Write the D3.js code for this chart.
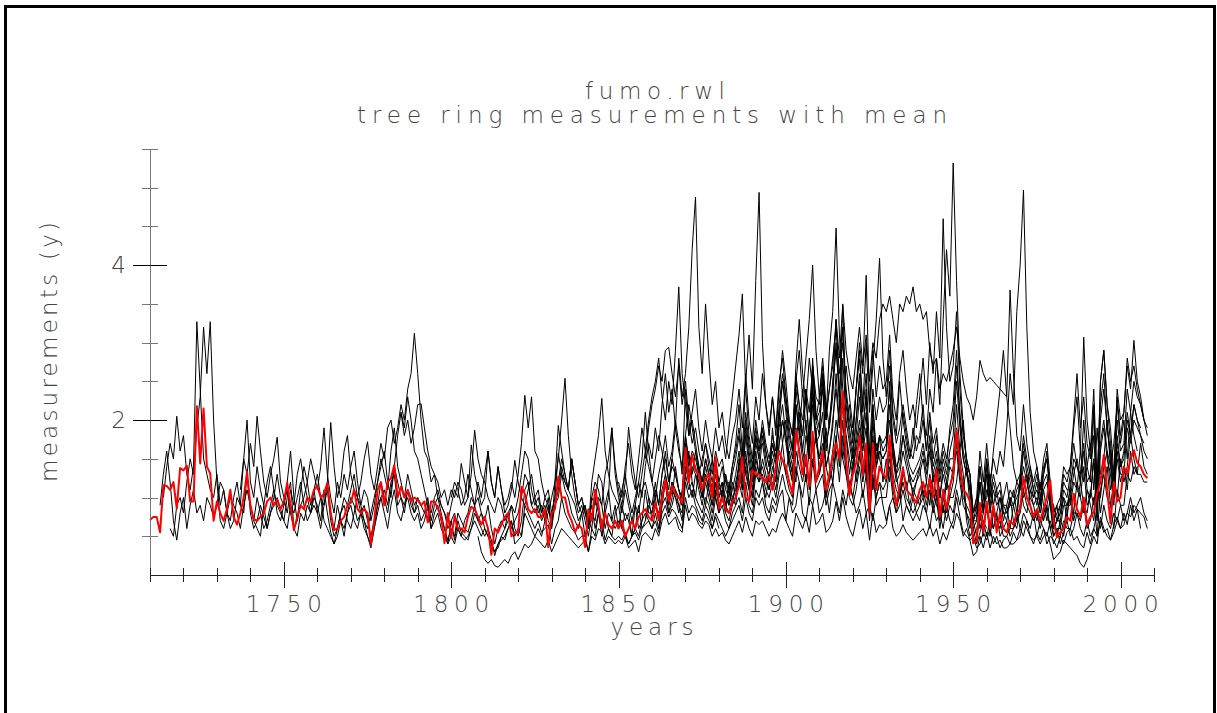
<!DOCTYPE html>
<html>
<head>
<meta charset="utf-8">
<script src="https://cdn.jsdelivr.net/npm/d3@7"></script>
<style>
    html, body { margin: 0; padding: 0; background: #fff; overflow: hidden; }
    text { font-family: 'DejaVu Sans', 'Liberation Sans', sans-serif; font-weight: 200; fill: #444; }
</style>
</head>
<body>
<svg id="chart" width="1217" height="713"></svg>
<script>

// tree ring widths, one value per year from the start year
var serA = [0.9,1.3,1.6,1.2,0.7,0.45,0.8,
    1.0,0.6,0.9,1.1,0.8,0.9,0.7,1.0,0.9,0.75, 0.9,1.2,1.1,0.8,0.6,0.7,1.0,0.9,0.8,1.3,
    0.8,0.6,0.7,0.9,0.75,0.6,0.8,0.9,1.0,0.85, 0.7,1.0,1.2,0.6,0.5,0.8,0.7,0.9,0.8,1.0,
    0.9,0.7,1.1,0.8,0.55,0.4,0.5,0.7,0.6,0.8, 1.0,0.9,0.7,0.8,0.6,0.5,0.35,0.6,0.8,1.0,
    1.1,0.9,1.2,1.3,0.9,1.0,0.8,1.1,0.9,0.8, 0.9,0.7,0.8,0.85,0.6,0.8,0.9,0.7,0.6,0.4,
    0.7,0.45,0.7,0.55,0.5,0.45,0.6,0.8,0.7,0.6, 0.5,0.6,0.45,0.25,0.4,0.45,0.5,0.6,0.7,0.4,
    0.45,0.5,0.9,0.8,0.7,0.6,0.7,0.55,0.6,0.65, 0.4,0.6,0.7,1.0,0.8,0.7,0.6,0.55,0.45,0.5,
    0.5,0.3,0.6,0.5,0.8,0.7,0.45,0.6,0.5,0.45, 0.5,0.45,0.55,0.4,0.5,0.55,0.45,0.6,0.65,0.7,
    0.6,0.7,0.55,0.8,0.9,0.75,0.85,0.8,0.7,0.6, 1.0,0.8,0.9,0.85,0.7,0.65,0.8,0.7,0.6,0.75, 0.6];

var serB = [1.0,1.4,1.7,1.5,2.05,1.6,
    1.8,1.3,1.1,1.4,3.27,2.4,1.5,1.3,1.1,1.0, 1.3,0.9,1.1,0.8,0.7,1.0,1.2,0.9,1.5,2.0,
    1.2,1.0,1.4,1.1,0.9,0.6,0.8,1.0,1.3,1.0, 0.9,1.2,1.6,1.0,0.7,1.1,1.4,1.2,1.5,1.3,
    1.1,1.4,1.9,1.3,1.0,0.8,1.2,1.0,1.3,1.1, 1.4,1.6,1.2,0.9,1.1,1.0,0.7,0.9,1.2,1.5,
    1.3,1.1,1.6,1.9,1.4,1.2,1.0,1.3,1.1,0.9, 1.0];

var serC = [0.6,0.5,0.9,1.0,
    0.8,1.2,1.5,1.3,1.9,2.3,3.2,2.6,3.27,2.0, 1.2,0.7,0.6,0.8,1.0,0.9,0.8,0.6,0.9,1.1,
    0.9,0.7,0.6,0.5,0.9,1.2,1.4,1.1,0.9,0.8, 0.7,0.6,0.9,0.8,1.0,1.2,0.9,0.7,0.8,0.9,
    0.8,1.0,0.7,0.6,0.5,0.4,0.6,0.8,0.9,0.7, 0.6,0.8,1.0,0.9,0.7,0.6,0.8,1.0,1.2,1.4,
    1.6,1.2,1.0,1.4,1.8,2.1,1.9,2.3,2.0,1.6, 1.5,1.3,1.1,0.9,0.8,1.0,1.1,0.9,0.8,0.6,
    0.7,0.8,0.6,0.5,0.7,0.8,1.0,0.9,0.7,0.8, 0.6,0.5,0.4,0.3,0.35,0.5,0.6,0.7,0.9,0.8,
    1.0,1.3,1.6,1.5,1.1,0.9,1.0,0.8,0.9,0.7, 0.6];

var serD = [1.1,1.5,1.3,
    1.7,1.4,2.05,1.6,1.2,1.0,1.3,1.5,1.78,1.2, 1.0,0.8,1.1,0.9,1.3,1.5,1.2,1.0,0.8,1.1,
    1.3,1.0,0.9,1.2,1.97,1.4,1.0,1.2,1.6,1.8, 1.3,1.1,1.0,1.2,1.5,1.72,1.3,1.1,1.4,1.7,
    1.5,1.9,2.0,1.7,1.9,2.2,2.0,2.4,2.6,3.12, 2.6,2.0,1.6,1.5,1.2,1.3,1.0,0.9,0.8,0.7,
    0.9,1.1,1.0,1.44,1.2,1.0,1.68,1.3,1.1,0.9, 1.0,1.6,1.2,1.0,1.4,1.1,0.8,0.9,1.1,1.48,
    1.2,1.0,0.9,1.1,1.3,1.0,0.8,0.9,0.7,0.8, 1.0,1.2,1.93,1.6,1.3,1.1,1.5,1.2,0.9,1.0,
    0.8,0.7,1.0,1.2,1.1,0.9,1.3,1.5,1.9,1.4, 1.1,0.9,1.2,1.91,1.5,1.2,1.0,1.3,1.6,1.4,
    1.2,1.5,1.8,1.6,1.3,1.1,1.5,1.9,1.6,1.4, 1.8,2.2,1.9,1.6,1.3,1.5,1.7,1.4,1.2,1.5,
    1.2,1.0,1.3,1.1,0.9,1.2,1.4,1.6,1.3,1.1, 1.4,1.7,1.5,1.2,1.0,1.3,1.6,1.4,1.9,2.2,
    1.8,1.5,1.3,1.7,2.1,1.6,1.4,1.9,2.3,1.8, 1.5,1.7,1.4,1.2,1.6,2.0,1.7,1.5,1.3,1.1,
    1.4,1.6,1.9,1.5,1.3,1.1,1.4,1.7,1.5,1.3, 1.2,1.5,1.3,1.1,1.0,1.3,1.2,0.9,1.1,1.0,
    0.9,1.2,1.0,1.3,1.1,0.9,0.8,1.0,1.2,1.1, 1.4,1.6,1.2,0.9,0.8,0.7,0.5,0.6,0.8,0.7, 0.6];

var serE = [0.9,0.7,1.0,0.8,0.6,0.7,0.9,1.1,0.8,0.7, 0.9,1.1,0.8,0.6,0.7,0.9,1.0,1.2,0.9,1.1,
    0.8,0.6,0.9,1.1,0.7,0.5,0.6,0.8,1.0,0.9, 1.1,1.3,1.0,0.8,0.9,0.7,0.5,0.7,0.9,1.2,
    1.0,0.8,1.1,1.4,1.2,1.0,0.9,1.1,1.0,0.8, 1.0,0.9,0.8,1.0,0.7,0.9,1.0,0.8,0.6,0.45,
    0.6,0.5,0.8,0.7,0.6,0.55,0.7,0.9,1.0,0.8, 0.7,0.9,0.6,0.4,0.6,0.7,0.6,0.8,0.9,0.6,
    0.5,0.7,1.1,1.2,0.9,0.8,0.9,0.7,0.8,1.0, 0.6,0.9,1.0,1.3,1.1,1.0,0.8,0.7,0.6,0.8,
    0.9,0.7,0.6,1.0,0.8,0.6,0.9,1.1,0.7,0.9, 0.6,0.9,0.7,0.8,0.5,0.9,0.6,0.7,1.1,0.8,
    0.8,1.0,0.7,1.1,1.3,1.0,1.2,1.1,1.0,0.9, 1.5,1.2,1.4,1.3,1.2,1.0,1.3,1.1,0.9,1.2,
    0.9,1.0,0.8,0.7,0.9,1.0,1.2,1.0,1.4,1.1, 0.9,1.3,1.2,1.3,1.1,1.0,1.2,1.0,1.3,1.5,
    1.3,1.1,1.0,1.6,1.4,1.2,1.5,1.1,1.7,1.2, 1.3,1.5,1.0,1.2,1.4,1.8,1.4,2.0,1.4,1.2,
    1.0,1.3,1.6,1.2,1.5,0.8,1.5,1.0,1.2,1.1, 1.2,1.6,1.1,0.9,1.0,1.2,1.0,0.9,0.8,0.9,
    1.0,1.1,0.9,1.2,0.9,1.1,0.7,1.0,0.8,1.0, 1.2,1.7,1.3,1.0,0.9,0.8,0.4,0.45,0.8,0.5,
    0.9,0.5,0.8,0.6,0.7,0.5,0.5,0.6,0.6,0.7, 0.8,1.1,0.9,0.8,0.7,0.8,0.6,0.8,0.9,0.6,
    0.4,0.5,0.5,0.7,0.6,0.6,0.8,0.8,0.7,0.9, 0.6,0.7,1.0,0.5,1.1,1.3,1.0,0.9,0.6,1.1,
    0.9,0.9,1.3,1.2,1.4,1.3,1.3,1.2,1.2];

var serF = [0.6,0.9,0.7,0.5,0.8,
    0.9,0.7,0.6,0.8,0.7,0.5,0.4,0.6,0.9,1.0, 0.8,0.6,0.9,1.1,0.8,0.7,0.9,1.0,0.8,0.7,
    0.8,0.6,0.7,0.9,0.6,0.7,0.8,0.6,0.5,0.4, 0.5,0.4,0.6,0.5,0.45,0.5,0.6,0.7,0.6,0.5,
    0.6,0.5,0.4,0.3,0.4,0.5,0.45,0.6,0.7,0.5, 0.6,0.5,0.8,0.7,0.6,0.5,0.6,0.5,0.7,0.9,
    0.6,1.2,1.5,2.0,2.54,1.8,1.3,1.0,0.8,0.9, 0.7,0.5,0.8,0.7,1.0,0.9,0.6,0.8,0.7,0.6,
    0.7,0.6,0.5,0.4,0.5,0.6,0.5,0.7,0.8,0.7, 0.6,0.8,0.6,0.9,1.0,0.8,0.9,1.1,0.9,0.7,
    1.2,1.0,1.1,0.9,0.8,0.7,0.9,0.8,0.6,0.8, 0.7,0.6,0.5,0.6,0.7,0.8,0.9,0.7,1.0,0.8,
    0.7,1.0,0.9,1.0,0.8,0.7,0.9,0.8,1.0,1.1, 0.7,1.0,0.8,0.9,1.2,0.8,0.7,1.0,0.9,1.1,
    0.8,0.9,1.1,0.8,1.2,1.0,0.8,1.1,0.9,1.2, 1.0,0.8,0.9,1.1,0.8,0.9,0.7,1.0,1.2,0.9,
    0.7,0.9,1.0,0.8,1.1,0.7,0.9,0.8,1.0,0.8, 0.7,0.9,0.8,0.6,0.9,0.7,0.8,0.6,0.9,0.7,
    0.6,0.8,0.7,0.5,0.6,0.45,0.5,0.35,0.4,0.55, 0.45,0.6,0.4,0.5,0.35,0.45,0.5,0.4,0.55,0.45,
    0.6,0.5,0.7,0.5,0.4,0.55,0.45,0.6,0.4,0.5, 0.45,0.35,0.5,0.4,0.55,0.6,0.45,0.5,0.4,0.35,
    0.55,0.4,0.6,0.5,0.7,0.55,0.6,0.45,0.65,0.75, 0.6,0.8,0.65,0.9,0.7,0.85,0.6];

var serG = [2.1,1.8,2.0,1.7,1.9,
    2.2,2.21,1.9,1.6,1.4,1.3,1.2,1.0,1.1,0.9, 1.1,1.0,1.2,1.1,0.9,1.0,1.3,1.87,1.5,1.3,
    1.2,1.0,0.9,0.8,1.0,0.9,0.7,0.8,0.6,0.7, 0.8,1.0,1.3,1.2,0.9,1.0,1.1,0.8,1.0,0.9,
    0.7,0.9,1.1,1.4,1.2,1.1,1.5,1.2,0.9,1.0, 0.8,0.6,1.2,1.5,1.8,2.28,1.6,1.3,1.1,1.0,
    0.9,1.1,1.3,1.0,0.8,1.0,1.2,1.5,2.1,1.6, 1.2,1.0,1.3,1.5,1.8,1.4,1.6,2.0,1.7,1.3,
    2.4,1.8,2.0,1.7,1.4,1.2,1.5,1.3,1.1,1.4, 1.1,1.2,1.0,0.9,1.1,1.3,1.6,1.2,1.9,1.5,
    1.2,1.8,1.6,1.7,1.4,1.3,1.5,1.2,1.7,2.0, 1.7,1.4,1.2,2.2,1.9,1.6,2.0,1.5,2.4,1.7,
    1.8,2.1,1.4,1.6,1.9,2.6,1.9,2.8,2.0,1.7, 1.4,1.8,2.3,1.7,2.1,1.1,2.0,1.4,1.6,1.5,
    1.6,2.2,1.5,1.2,1.3,1.6,1.4,1.2,1.1,1.2, 1.3,1.5,1.2,1.6,1.2,1.4,1.0,1.3,1.1,1.4,
    1.3,1.9,1.5,1.1,1.4,0.9,0.7,0.5,0.8,1.0, 0.8,1.1,0.9,0.7,0.6,0.9,0.8,1.0,0.7,0.6,
    0.9,1.1,1.3,0.9,0.7,0.8,1.0,0.7,0.9,1.1, 0.8,0.5,0.7,0.6,0.9,1.1,0.8,1.2,1.0,0.8,
    1.1,0.9,0.7,1.2,1.0,1.4,1.6,1.1,1.3,1.0, 1.5,1.2,1.4,1.8,1.5,1.3,1.7,1.4,1.3];

var serH = [1.0,1.2,1.1,0.9,1.0,1.3,1.1,0.9,1.2,1.0, 1.3,1.6,1.2,1.0,1.4,1.1,0.9,1.0,1.2,1.0,
    1.3,1.7,2.32,1.9,2.3,1.6,1.5,1.2,1.0,1.1, 0.8,1.0,1.57,1.3,1.2,1.1,1.5,1.2,0.9,0.8,
    0.9,0.6,1.0,0.9,1.3,1.2,0.8,1.0,1.9,1.3, 1.0,0.8,1.1,0.9,0.7,0.9,0.8,1.1,1.2,1.0,
    0.9,1.2,0.9,1.3,1.5,1.2,1.4,1.3,1.1,1.0, 1.8,1.4,1.6,1.5,1.3,1.1,1.4,1.2,1.0,1.3,
    1.0,1.1,0.9,0.8,1.0,1.1,1.4,1.1,1.6,1.2, 1.0,1.5,1.3,1.4,1.2,1.1,1.3,1.1,1.4,1.7,
    1.3,1.6,1.4,1.2,1.8,1.5,1.2,1.6,1.4,1.9, 1.3,1.6,1.9,1.4,1.2,1.7,2.2,1.5,1.8,1.3,
    1.6,1.2,1.5,1.9,1.3,1.6,1.1,1.4,1.8,1.2, 1.5,1.2,1.7,1.3,1.0,1.4,1.1,1.3,1.0,1.2,
    1.4,1.0,1.2,0.9,1.3,1.0,1.1,0.8,1.2,1.0, 1.0,1.2,1.6,1.3,0.8,0.6,0.7,0.9,0.6,0.8,
    1.1,0.9,0.6,0.8,1.0,0.7,0.9,0.6,0.9,0.7, 1.2,0.9,0.8,1.1,0.9,0.7,0.9,1.1,0.8,0.6,
    0.7,0.9,0.6,0.5,0.8,1.0,0.7,0.9,1.2,0.9, 0.8,1.1,0.9,1.3,0.8,1.1,1.4,0.9,1.2,1.5,
    1.2,1.4,1.1,1.6,1.3,1.4];

var serI = [0.5,0.3,
    0.2,0.15,0.2,0.12,0.1,0.15,0.2,0.15,0.25,0.3, 0.2,0.3,0.4,0.35,0.4,0.5,0.45,0.4,0.35,0.45,
    0.3,0.4,0.5,0.6,0.55,0.5,0.45,0.4,0.35,0.4, 0.45,0.3,0.5,0.45,0.6,0.55,0.4,0.5,0.45,0.4,
    0.45,0.4,0.5,0.35,0.4,0.45,0.3,0.5,0.55,0.5, 0.45,0.6,0.5,0.7,0.8,0.65,0.7,0.75,0.6,0.55,
    0.9,0.7,0.8,0.75,0.65,0.6,0.7,0.65,0.5,0.6, 0.5,0.55,0.45,0.4,0.5,0.6,0.7,0.55,0.75,0.6,
    0.5,0.7,0.65,0.7,0.6,0.5,0.6,0.55,0.7,0.8, 0.7,0.6,0.5,0.8,0.7,0.6,0.75,0.55,0.9,0.65,
    0.7,0.8,0.55,0.6,0.7,0.95,0.7,1.0,0.75,0.6, 0.5,0.7,0.85,0.6,0.8,0.45,0.8,0.55,0.65,0.6,
    0.65,0.9,0.6,0.5,0.55,0.65,0.55,0.5,0.45,0.5, 0.55,0.6,0.5,0.65,0.5,0.6,0.4,0.55,0.45,0.6,
    0.7,1.0,0.75,0.55,0.5,0.45,0.25,0.3,0.5,0.35, 0.55,0.35,0.5,0.4,0.45,0.35,0.35,0.4,0.4,0.45,
    0.5,0.7,0.6,0.5,0.45,0.5,0.4,0.5,0.55,0.4, 0.2,0.25,0.3,0.45,0.4,0.35,0.3,0.25,0.15,0.1,
    0.2,0.35,0.5,0.4,0.75,0.6,0.5,0.45,0.55,0.7, 0.6,0.65,0.8,0.75,0.9,0.85,0.8,0.75,0.6];

var serJ = [0.8,1.0,1.2,1.5,1.3,1.1,1.0,0.9,0.7,0.8, 0.5,0.7,0.9,0.6,0.8,0.5,0.8,0.6,0.5,0.8,
    0.9,0.6,0.8,0.7,0.5,0.6,0.9,0.6,0.7,1.0, 0.7,0.9,0.8,1.0,1.2,0.9,1.1,1.0,0.9,0.8,
    1.3,1.1,1.2,1.0,0.9,0.8,1.0,0.9,0.7,1.0, 0.8,0.9,0.7,0.6,0.8,0.9,1.0,0.8,1.2,0.9,
    0.8,1.1,1.0,1.2,0.9,0.8,1.0,0.9,1.1,1.3, 1.1,1.0,0.9,1.4,1.2,1.0,1.3,0.9,1.5,1.1,
    1.2,1.3,0.9,1.1,1.2,1.6,1.2,1.8,1.3,1.0, 0.9,1.1,1.4,1.0,1.3,0.7,1.3,0.9,1.0,1.0,
    1.0,1.4,1.0,0.8,0.9,1.1,0.9,0.8,0.7,0.8, 0.9,1.0,0.8,1.1,0.8,1.0,0.6,0.9,0.7,0.9,
    0.8,1.1,0.9,1.2,0.7,0.5,0.6,0.4,0.55,0.7, 0.5,0.7,0.6,0.8,0.5,0.6,0.7,0.5,0.6,0.8,
    0.6,0.8,0.7,0.6,0.8,0.5,0.7,0.6,0.5,0.7, 0.5,0.6,0.4,0.55,0.7,0.5,0.6,0.8,0.6,0.5,
    0.7,0.5,0.6,0.8,0.6,0.9,0.7,0.6,0.8,0.7, 0.9,0.7,0.8,1.0,0.8,0.9,1.0,0.8,0.7];

var serK = [1.2,1.0,1.4,1.7,1.3,1.1,1.5,1.9,1.6,2.0, 2.3,2.5,2.8,2.3,2.0,2.5,2.2,2.9,3.72,2.6,
    2.2,1.8,2.1,2.4,1.9,1.6,2.0,1.7,1.5,1.9, 1.6,1.8,1.5,1.9,2.3,2.7,3.1,3.63,2.4,1.8,
    1.5,2.0,1.7,1.9,1.6,1.4,1.7,1.5,2.0,2.5, 2.1,1.7,1.5,2.4,2.0,1.8,2.3,1.7,2.6,2.0,
    2.1,2.4,1.7,1.9,2.3,3.0,2.2,3.2,2.3,1.9, 1.6,2.0,2.5,1.9,2.3,1.3,2.2,1.6,1.8,1.7,
    1.8,2.4,1.7,1.4,1.5,1.8,1.6,1.4,1.3,1.4, 1.5,1.7,1.4,1.8,1.4,1.6,1.2,1.5,1.3,1.6,
    1.8,2.5,1.9,1.5,1.3,1.2,0.7,0.7,1.2,0.8, 1.3,0.8,1.1,0.9,1.0,0.8,0.8,0.9,0.9,1.0,
    1.1,1.6,1.3,1.1,1.0,1.1,0.9,1.2,1.3,0.9, 0.6,0.7,0.7,1.0,0.9,0.9,1.2,1.1,1.0,1.4,
    0.9,1.0,1.5,0.7,1.6,1.9,1.5,1.3,0.9,1.6, 1.3,1.3,1.9,1.7,2.0,1.9,1.8,1.7];

var serL = [0.9,1.2,1.0,1.4,1.7,
    1.5,1.9,1.6,2.2,2.6,2.1,2.4,1.9,2.8,2.3, 2.6,3.2,4.2,4.88,3.2,2.6,3.5,2.8,2.2,2.5,
    1.9,2.1,1.7,1.5,1.8,2.0,2.4,1.9,2.6,2.0, 1.7,2.3,2.0,2.6,2.2,1.9,2.3,1.8,2.4,2.9,
    2.5,2.0,1.8,2.7,3.3,2.6,2.2,2.8,2.4,2.0, 2.3,2.8,2.2,1.9,2.5,2.9,2.4,2.1,2.7,2.3,
    1.9,2.4,2.8,2.1,2.6,1.6,2.4,2.0,2.3,2.1, 2.2,2.7,2.0,1.7,1.9,2.2,1.9,1.6,1.5,1.8,
    1.7,2.0,1.6,2.1,1.7,1.9,1.4,1.7,1.5,1.8, 2.0,2.7,2.1,1.6,1.4,1.3,0.8,0.9,1.4,1.0,
    1.5,1.0,1.3,1.1,1.2,0.9,0.9,1.1,1.0,1.2, 1.3,1.8,1.5,1.3,1.1,1.3,1.0,1.4,1.5,1.1,
    0.7,0.8,0.9,1.2,1.1,1.1,1.5,1.4,1.3,1.7, 1.2,1.3,1.8,0.9,2.0,2.4,1.9,1.6,1.1,2.0,
    1.6,1.7,2.4,2.1,2.5,2.3,2.2,2.0,1.9];

var serM = [0.7,0.9,
    0.8,1.1,0.9,1.3,1.6,1.2,1.5,1.3,1.1,1.0, 1.7,1.3,1.5,1.4,1.2,1.0,1.3,1.1,0.9,1.2,
    1.0,1.2,0.9,1.1,1.4,1.7,2.2,1.6,2.5,3.1, 2.4,3.8,4.94,3.0,2.2,1.8,2.3,1.9,2.5,2.8,
    2.3,1.9,1.6,2.6,2.2,1.8,2.4,1.7,2.8,2.1, 1.9,2.5,1.6,2.0,2.4,3.3,2.3,3.48,2.2,1.8,
    1.5,2.0,2.6,1.8,2.4,1.2,2.2,1.5,1.8,1.6, 1.7,2.5,1.6,1.3,1.4,1.8,1.5,1.3,1.2,1.3,
    1.4,1.6,1.3,1.7,1.3,1.5,1.0,1.4,1.2,1.5, 1.5,2.2,1.6,2.0,1.4,1.1,0.8,1.0,0.7,0.9,
    1.0,1.3,0.9,1.1,0.8,1.0,1.2,0.9,1.1,0.8, 1.3,1.0,1.1,1.4,1.1,0.9,1.2,0.9,0.7,1.0,
    0.9,0.7,0.8,1.0,0.7,1.2,1.4,1.1,1.6,1.2, 1.4,1.7,1.1,1.9,1.3,1.5,2.0,1.4,1.7,2.2,
    1.7,2.0,1.5,2.1,1.8,1.6];

var serN = [0.6,0.9,1.2,0.8,1.0,1.4,1.1,0.9,
    1.3,1.6,1.2,1.0,1.4,1.1,0.9,1.2,1.5,1.0, 0.8,1.1,1.3,0.9,1.2,1.0,1.5,1.2,1.8,1.4,
    1.1,1.6,1.3,1.8,1.5,1.2,1.9,1.4,2.1,1.7, 2.0,1.5,1.3,2.2,1.8,2.4,1.9,1.6,2.7,2.0,
    1.8,2.6,2.0,2.9,3.4,4.48,3.1,2.4,1.9,2.2, 1.7,2.4,2.9,2.2,3.0,2.1,2.7,3.3,4.09,2.8,
    2.3,2.9,2.1,1.8,2.5,2.0,1.7,1.5,1.9,1.6, 1.8,2.2,1.6,2.0,1.5,1.8,1.3,1.6,1.4,1.9,
    2.2,2.9,2.0,1.5,1.3,1.1,0.6,0.7,1.2,0.8, 1.4,0.9,1.2,1.0,1.1,0.8,0.7,1.0,0.9,1.1,
    1.2,1.7,1.4,1.2,1.0,1.2,0.9,1.3,1.6,1.0, 0.6,0.7,0.8,1.1,1.0,1.3,1.7,1.4,1.2,2.0,
    1.4,1.2,2.1,1.0,2.5,2.9,2.2,1.7,1.2,2.3, 1.8,2.1,2.7,2.4,3.03,2.5,2.3,2.0,1.8];

var serO = [0.9,1.2,1.0,0.8,1.1,
    1.4,1.2,1.0,1.3,1.1,0.9,1.2,1.0,0.8,1.1, 0.9,1.0,0.8,1.2,1.0,0.9,1.3,1.1,1.5,1.2,
    1.0,1.4,1.2,1.5,1.3,1.1,1.4,1.2,1.7,2.0, 1.8,1.4,1.2,1.9,1.6,1.3,1.8,1.5,2.2,1.7,
    1.5,1.9,1.4,1.6,2.0,2.4,1.9,2.2,1.8,1.5, 1.3,1.7,2.0,1.6,1.9,1.2,1.8,1.4,1.6,1.5,
    1.6,2.0,1.5,1.3,1.6,2.1,1.8,1.5,1.7,2.2, 2.6,2.0,1.8,2.4,2.1,2.8,2.2,3.3,4.2,3.6,
    5.32,3.8,2.6,1.9,1.5,1.3,0.8,1.0,1.6,1.2, 1.7,1.2,1.5,1.3,1.6,1.4,1.9,2.6,2.2,3.4,
    4.0,4.97,3.2,2.1,1.6,1.4,1.1,1.3,1.5,1.0, 0.6,0.7,0.9,1.3,1.2,1.4,1.9,2.3,1.6,3.07,
    2.0,1.6,2.4,1.2,2.2,2.6,1.9,1.5,1.0,1.8, 1.4,1.6,2.1,1.8,2.2,2.0,1.8,1.6,1.5];

var serP = [1.8,1.5,1.3,1.6,1.4,1.2,1.5,1.3,1.1,1.4, 1.2,1.4,1.1,1.0,1.3,1.5,1.8,1.4,2.0,1.6,
    1.3,1.8,1.5,1.9,1.6,1.4,1.7,1.5,2.1,2.5, 2.2,1.8,1.6,2.5,2.9,2.3,2.8,3.3,4.0,2.9,
    2.3,2.7,2.0,2.4,2.8,3.2,2.6,3.0,2.4,2.0, 1.8,2.4,3.0,2.6,3.87,2.2,2.9,2.3,2.7,2.4,
    2.5,3.1,2.3,2.0,2.6,2.9,2.4,2.0,2.2,1.9, 2.3,2.8,2.2,3.0,2.6,3.4,2.8,4.6,3.2,2.5,
    2.7,3.4,2.4,1.8,1.5,1.3,0.7,0.8,1.4,1.0, 1.5,1.1,1.6,2.0,2.4,2.9,2.3,3.68,2.6,1.8,
    1.6,2.2,1.7,1.4,1.2,1.4,1.1,1.5,1.7,1.2, 0.8,0.9,1.0,1.4,1.3,1.4,2.0,2.6,1.9,2.3,
    1.7,1.5,2.2,1.1,2.5,2.9,2.2,1.9,1.3,2.4, 2.0,2.1,2.8,2.5,2.7,2.4,2.2,2.0];

var serQ = [1.5,1.9,
    2.2,2.4,2.7,2.5,2.9,2.94,2.6,2.3,2.7,2.2, 2.5,2.0,1.7,1.9,1.6,1.4,1.7,1.5,1.3,1.6,
    1.4,1.5,1.2,1.1,1.4,1.6,1.9,1.5,2.1,1.7, 1.4,1.9,1.6,2.0,1.7,1.5,1.8,1.6,2.2,2.6,
    2.3,2.0,1.8,2.5,2.2,2.0,2.4,2.1,2.7,2.3, 2.2,2.6,2.1,2.4,2.7,3.3,2.8,3.5,2.9,2.6,
    2.4,2.8,3.2,2.7,3.1,2.5,3.0,2.8,3.3,3.5, 3.4,3.6,3.3,3.0,3.5,3.4,3.6,3.5,3.72,3.4,
    3.5,3.3,3.4,2.9,2.7,2.8,2.4,2.6,2.5,2.7, 2.9,3.2,2.8,2.5,2.3,2.2,2.0,2.3,2.77,2.6,
    2.5,2.55,2.5,2.45,2.4,2.35,2.3,1.9,1.4,1.2, 1.1,1.4,1.2,1.0,0.9,1.0,0.8,1.1,1.2,0.9,
    0.5,0.6,0.6,0.9,0.9,1.0,1.3,1.5,1.2,1.6, 1.1,1.0,1.5,0.8,1.7,2.0,1.6,1.4,1.0,1.7,
    1.4,1.5,2.0,1.8,2.2,2.0,1.9];

var seriesStarts = [1713, 1714, 1716, 1737, 1740, 1765, 1785, 1800, 1808, 1830, 1850, 1855, 1858, 1862, 1865, 1870, 1858];
var seriesValues = [serA, serB, serC, serD, serE, serF, serG, serH, serI, serJ, serK, serL, serM, serN, serO, serP, serQ];

// mean curve, 1710 onwards
var meanStart = 1710;
var meanValues = [0.71,0.75,0.75,0.55,1.16,1.15,1.1,1.2,0.86,1.38,
    1.35,1.41,0.95,0.95,2.18,1.44,2.15,1.4,1.31,0.7, 0.95,0.8,0.7,0.85,1.1,0.75,0.65,0.8,1.0,1.33,
    0.9,0.72,0.7,0.75,0.8,0.95,1.0,0.9,0.97,0.85, 0.95,1.19,0.9,0.58,0.75,0.9,0.85,1.0,0.95,1.1,
    1.15,1.0,1.05,1.19,0.8,0.58,0.6,0.7,0.75,0.9, 0.93,1.1,0.85,0.8,0.85,0.8,0.4,0.7,1.1,1.2,
    0.9,1.2,1.25,1.42,1.0,1.14,1.0,1.1,0.95,1.0, 0.97,0.9,0.95,0.68,0.95,0.95,0.86,0.75,0.41,0.8,
    0.48,0.75,0.6,0.6,0.55,0.75,0.88,0.85,0.75,0.65, 0.75,0.6,0.26,0.6,0.55,0.65,0.75,0.8,0.5,0.55,
    0.55,1.14,1.05,0.85,0.8,0.85,0.75,0.75,0.85,0.36, 0.8,0.85,1.27,1.0,1.0,0.8,0.7,0.55,0.65,0.6,
    0.36,0.85,0.7,1.1,0.9,0.6,0.8,0.65,0.6,0.7, 0.6,0.7,0.5,0.6,0.7,0.6,0.75,0.8,0.85,0.75,
    0.7,0.93,0.71,1.0,1.22,0.95,1.15,1.05,1.0,0.93, 1.64,1.2,1.55,1.35,1.3,1.1,1.25,1.3,1.0,1.52,
    0.86,1.0,0.85,0.8,0.95,1.0,1.15,1.52,1.0,0.95, 1.35,1.3,1.3,1.25,1.2,1.3,1.1,1.4,1.6,1.48,
    1.4,1.2,1.05,1.87,1.6,1.3,1.55,1.15,1.85,1.2, 1.4,1.6,1.1,1.3,1.55,1.7,1.5,2.36,1.5,1.03,
    1.3,1.45,1.8,1.3,1.7,0.8,1.7,1.1,1.4,1.3, 1.25,1.8,1.2,0.9,1.14,1.38,1.1,1.05,1.0,0.93,
    1.1,1.2,1.0,1.25,1.0,1.36,0.75,1.1,0.85,1.15, 1.3,1.87,1.4,1.1,1.05,0.95,0.41,0.45,0.93,0.55,
    0.95,0.6,0.9,0.55,0.8,0.6,0.55,0.7,0.65,0.8, 0.85,1.27,1.0,0.9,0.75,0.85,0.7,0.85,1.0,1.22,
    0.7,0.49,0.55,0.6,0.75,0.7,1.05,0.85,0.75,1.0, 0.65,0.75,0.81,1.05,1.2,1.55,1.1,0.67,1.2,0.95,
    1.0,1.4,1.3,1.5,1.61,1.45,1.4,1.3,1.25];

var xMinorTicks = d3.range(1710, 2011, 10);
var xMajorTicks = [1750, 1800, 1850, 1900, 1950, 2000];
var xTickLabels = ['1750', '1800', '1850', '1900', '1950', '2000'];
var yMinorTicks = [0.5, 1, 1.5, 2.5, 3, 3.5, 4.5, 5, 5.5];
var yMajorTicks = [2, 4];
var yTickLabels = ['2', '4'];

var svg = d3.select('#chart');

var x = d3.scaleLinear().domain([1710, 2010]).range([150, 1154]);
var y = d3.scaleLinear().domain([0, 5.5]).range([575, 149]);

// outer frame
svg.append('rect')
    .attr('x', 5.5).attr('y', 6.5)
    .attr('width', 1209).attr('height', 730)
    .attr('fill', 'none')
    .attr('stroke', '#000')
    .attr('stroke-width', 3);

function toPoints ( start, values ) {

    return values.map( function ( v, i ) {

        return { year: start + i, value: v };

    });

}

var line = d3.line()
    .x( function ( d ) { return x( d.year ); })
    .y( function ( d ) { return y( d.value ); });

var plot = svg.append('g');

plot.selectAll('.ring')
    .data( seriesValues.map( function ( v, i ) { return toPoints( seriesStarts[ i ], v ); }) )
    .enter().append('path')
    .attr('class', 'ring')
    .attr('d', line)
    .attr('fill', 'none')
    .attr('stroke', '#000')
    .attr('stroke-width', 1);

plot.append('path')
    .datum( toPoints( meanStart, meanValues ) )
    .attr('d', line)
    .attr('fill', 'none')
    .attr('stroke', '#ff0000')
    .attr('stroke-width', 2)
    .attr('stroke-linejoin', 'round');

/* axes */

var axes = svg.append('g')
    .attr('stroke', '#222')
    .attr('shape-rendering', 'crispEdges');

axes.append('line')
    .attr('x1', x(1710)).attr('x2', x(2010))
    .attr('y1', y(0) + 0.5).attr('y2', y(0) + 0.5);

axes.append('line')
    .attr('x1', x(1710) + 0.5).attr('x2', x(1710) + 0.5)
    .attr('y1', y(5.5)).attr('y2', y(0))
    .attr('stroke', '#777');

axes.selectAll('.xminor')
    .data( xMinorTicks )
    .enter().append('line')
    .attr('x1', function ( d ) { return Math.round( x( d ) ) + 0.5; })
    .attr('x2', function ( d ) { return Math.round( x( d ) ) + 0.5; })
    .attr('y1', function ( d ) { return xMajorTicks.indexOf( d ) >= 0 ? y(0) - 13 : y(0) - 7; })
    .attr('y2', function ( d ) { return xMajorTicks.indexOf( d ) >= 0 ? y(0) + 13 : y(0) + 7; });

axes.selectAll('.yminor')
    .data( yMinorTicks )
    .enter().append('line')
    .attr('x1', x(1710) - 8).attr('x2', x(1710) + 8)
    .attr('y1', function ( d ) { return Math.round( y( d ) ) + 0.5; })
    .attr('y2', function ( d ) { return Math.round( y( d ) ) + 0.5; })
    .attr('stroke', '#777');

axes.selectAll('.ymajor')
    .data( yMajorTicks )
    .enter().append('line')
    .attr('x1', x(1710) - 17).attr('x2', x(1710) + 17)
    .attr('y1', function ( d ) { return Math.round( y( d ) ) + 0.5; })
    .attr('y2', function ( d ) { return Math.round( y( d ) ) + 0.5; })
    .attr('stroke', '#000');

/* labels */

svg.selectAll('.xlabel')
    .data( xMajorTicks )
    .enter().append('text')
    .attr('x', function ( d ) { return x( d ); })
    .attr('y', 612)
    .attr('text-anchor', 'middle')
    .attr('font-size', 23)
    .attr('textLength', 76)
    .text( function ( d, i ) { return xTickLabels[ i ]; });

svg.selectAll('.ylabel')
    .data( yMajorTicks )
    .enter().append('text')
    .attr('x', 126)
    .attr('y', function ( d ) { return y( d ) + 8; })
    .attr('text-anchor', 'end')
    .attr('font-size', 23)
    .text( function ( d, i ) { return yTickLabels[ i ]; });

svg.append('text')
    .attr('x', 655).attr('y', 99)
    .attr('text-anchor', 'middle')
    .attr('font-size', 23)
    .attr('textLength', 140)
    .text('fumo.rwl');

svg.append('text')
    .attr('x', 652).attr('y', 123)
    .attr('text-anchor', 'middle')
    .attr('font-size', 23)
    .attr('textLength', 590)
    .text('tree ring measurements with mean');

svg.append('text')
    .attr('x', 652).attr('y', 635)
    .attr('text-anchor', 'middle')
    .attr('font-size', 23)
    .attr('textLength', 83)
    .text('years');

svg.append('text')
    .attr('transform', 'translate(57,352) rotate(-90)')
    .attr('text-anchor', 'middle')
    .attr('font-size', 23)
    .attr('textLength', 260)
    .text('measurements (y)');

</script>
</body>
</html>
